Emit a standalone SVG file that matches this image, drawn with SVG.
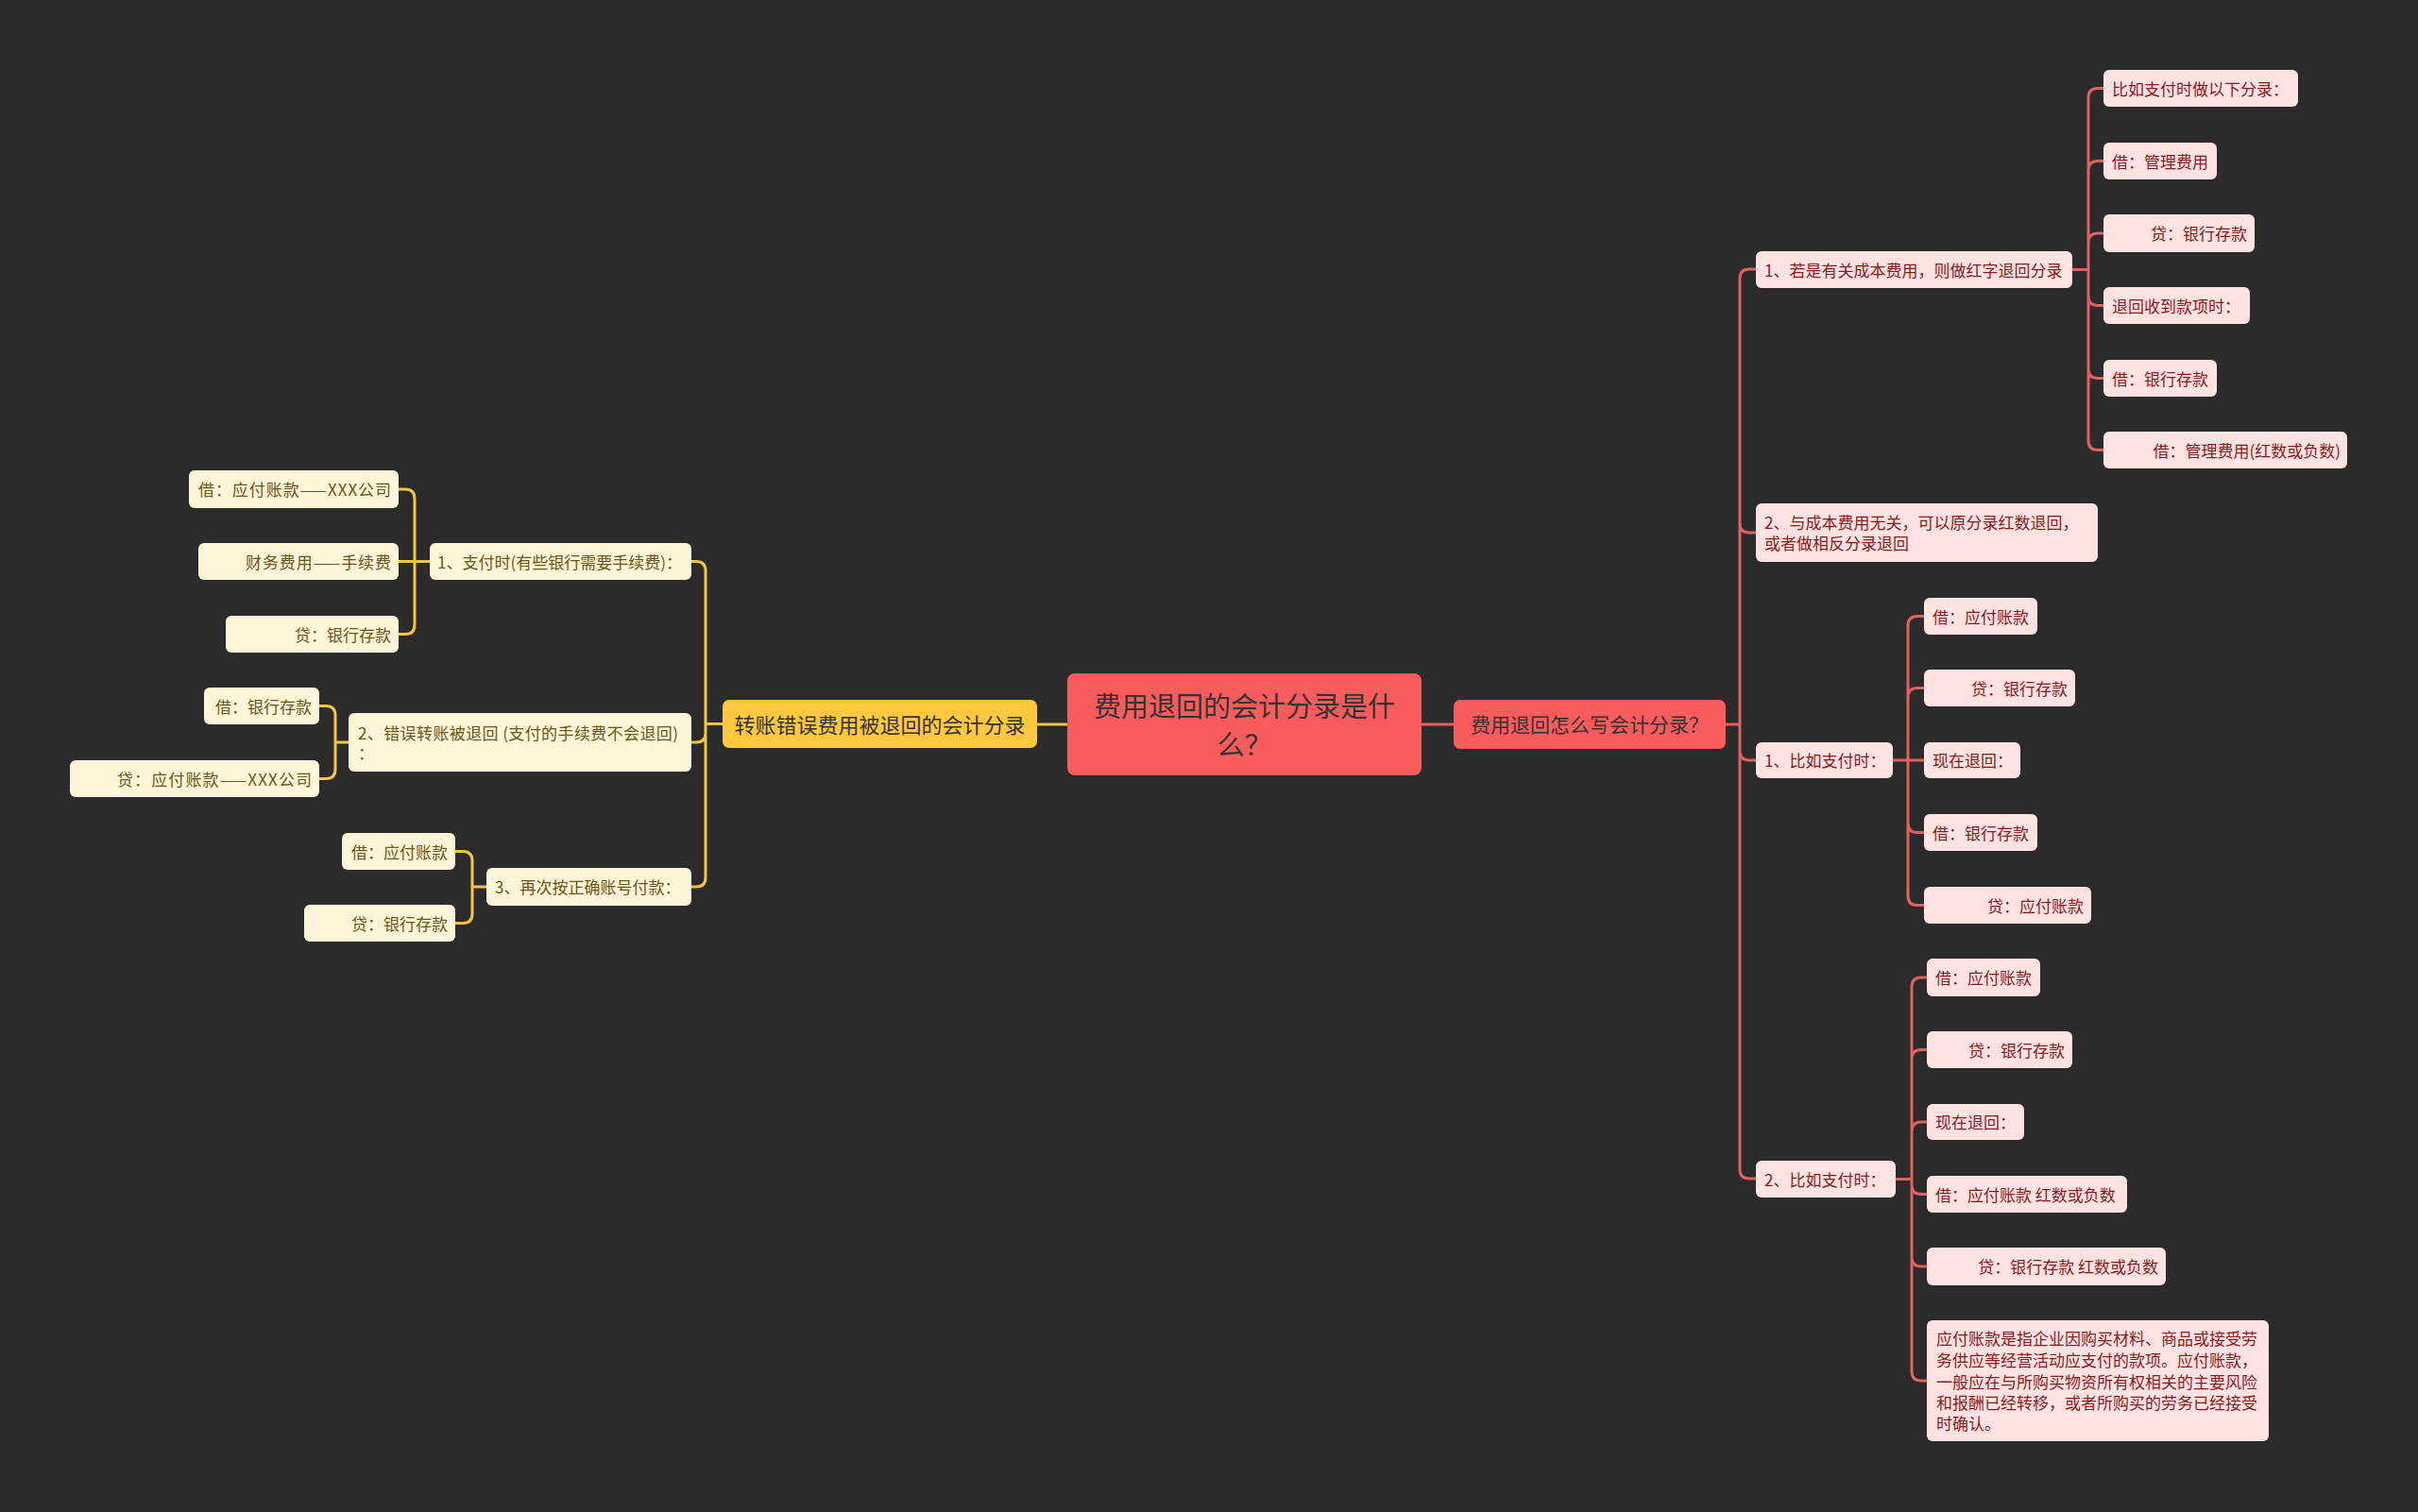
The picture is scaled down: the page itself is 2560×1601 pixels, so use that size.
<svg xmlns="http://www.w3.org/2000/svg" width="2560" height="1601" viewBox="0 0 2560 1601">
<style>
text{font-family:"Noto Sans CJK SC","Noto Sans",sans-serif;dominant-baseline:central}
.c{fill:#F95C5C}
.rc{fill:#FFE3E3}
.lc{fill:#FFF5D8}
.lm{fill:#FFC83E}
.tr{fill:#8B1A1A;font-size:17px}
.tl{fill:#6E5416;font-size:17px}
.tm{fill:#333333}
.lr{fill:none;stroke:#E0625F;stroke-width:3}
.ly{fill:none;stroke:#F4C443;stroke-width:3}
</style>
<rect width="2560" height="1601" fill="#2B2B2B"/>
<g id="connectors">
<path class="lr" d="M1505,767H1539"/>
<path class="ly" d="M1130,767H1098"/>
<path class="lr" d="M1827,767H1842M1842,767V295Q1842,285 1852,285H1859M1842,767V554Q1842,564 1852,564H1859M1842,767V795Q1842,805 1852,805H1859M1842,767V1238Q1842,1248 1852,1248H1859"/>
<path class="lr" d="M2194,285.5H2211M2211,285.5V103.5Q2211,93.5 2221,93.5H2227M2211,285.5V180.5Q2211,170.5 2221,170.5H2227M2211,285.5V257Q2211,247 2221,247H2227M2211,285.5V313.5Q2211,323.5 2221,323.5H2227M2211,285.5V390.5Q2211,400.5 2221,400.5H2227M2211,285.5V466.5Q2211,476.5 2221,476.5H2227"/>
<path class="lr" d="M2004,805H2037M2020,805V662.5Q2020,652.5 2030,652.5H2037M2020,805V738.5Q2020,728.5 2030,728.5H2037M2020,805V871.5Q2020,881.5 2030,881.5H2037M2020,805V948.5Q2020,958.5 2030,958.5H2037"/>
<path class="lr" d="M2007,1248.5H2024M2024,1248.5V1045Q2024,1035 2034,1035H2040M2024,1248.5V1121.5Q2024,1111.5 2034,1111.5H2040M2024,1248.5V1198Q2024,1188 2034,1188H2040M2024,1248.5V1254.5Q2024,1264.5 2034,1264.5H2040M2024,1248.5V1331Q2024,1341 2034,1341H2040M2024,1248.5V1452Q2024,1462 2034,1462H2040"/>
<path class="ly" d="M765,766.5H747M747,766.5V604.5Q747,594.5 737,594.5H732M747,766.5V776Q747,786 737,786H732M747,766.5V929Q747,939 737,939H732"/>
<path class="ly" d="M455,594.5H422M439,594.5V528Q439,518 429,518H422M439,594.5V661.5Q439,671.5 429,671.5H422"/>
<path class="ly" d="M369,786H355M355,786V757.5Q355,747.5 345,747.5H338M355,786V814.5Q355,824.5 345,824.5H338"/>
<path class="ly" d="M515,939H500M500,939V911.5Q500,901.5 490,901.5H482M500,939V967.5Q500,977.5 490,977.5H482"/>
</g>
<g id="center"><rect class="c" x="1130" y="713" width="375" height="108" rx="8"/><text class="tm" x="1317.5" y="746" font-size="29" text-anchor="middle">费用退回的会计分录是什</text><text class="tm" x="1317.5" y="787" font-size="29" text-anchor="middle">么？</text></g>
<g id="right-main"><rect class="c" x="1539" y="741" width="288" height="52" rx="7"/><text class="tm" x="1683" y="766" font-size="21" text-anchor="middle">费用退回怎么写会计分录？</text></g>
<g id="left-main"><rect class="lm" x="765" y="741" width="333" height="51" rx="7"/><text class="tm" x="931.5" y="765.5" font-size="22" text-anchor="middle">转账错误费用被退回的会计分录</text></g>
<g id="r1"><rect class="rc" x="1859" y="266" width="335" height="39" rx="6"/><text class="tr" x="1868" y="285">1、若是有关成本费用，则做红字退回分录</text></g>
<g id="r1a"><rect class="rc" x="2227" y="74" width="206" height="39" rx="6"/><text class="tr" x="2236" y="93">比如支付时做以下分录：</text></g>
<g id="r1b"><rect class="rc" x="2227" y="151" width="120" height="39" rx="6"/><text class="tr" x="2236" y="170">借：管理费用</text></g>
<g id="r1c"><rect class="rc" x="2227" y="227" width="160" height="40" rx="6"/><text class="tr" x="2379" y="246.5" text-anchor="end">贷：银行存款</text></g>
<g id="r1d"><rect class="rc" x="2227" y="304" width="155" height="39" rx="6"/><text class="tr" x="2236" y="323">退回收到款项时：</text></g>
<g id="r1e"><rect class="rc" x="2227" y="381" width="120" height="39" rx="6"/><text class="tr" x="2236" y="400">借：银行存款</text></g>
<g id="r1f"><rect class="rc" x="2227" y="457" width="258" height="39" rx="6"/><text class="tr" x="2478" y="476" text-anchor="end">借：管理费用(红数或负数)</text></g>
<g id="r2"><rect class="rc" x="1859" y="533" width="362" height="62" rx="6"/><text class="tr" x="1868" y="552.5">2、与成本费用无关，可以原分录红数退回，</text><text class="tr" x="1868" y="574.5">或者做相反分录退回</text></g>
<g id="r3"><rect class="rc" x="1859" y="786" width="145" height="38" rx="6"/><text class="tr" x="1868" y="804.5">1、比如支付时：</text></g>
<g id="r3a"><rect class="rc" x="2037" y="633" width="120" height="39" rx="6"/><text class="tr" x="2046" y="652">借：应付账款</text></g>
<g id="r3b"><rect class="rc" x="2037" y="709" width="160" height="39" rx="6"/><text class="tr" x="2189" y="728" text-anchor="end">贷：银行存款</text></g>
<g id="r3c"><rect class="rc" x="2037" y="786" width="102" height="38" rx="6"/><text class="tr" x="2046" y="804.5">现在退回：</text></g>
<g id="r3d"><rect class="rc" x="2037" y="862" width="120" height="39" rx="6"/><text class="tr" x="2046" y="881">借：银行存款</text></g>
<g id="r3e"><rect class="rc" x="2037" y="939" width="177" height="39" rx="6"/><text class="tr" x="2206" y="958" text-anchor="end">贷：应付账款</text></g>
<g id="r4"><rect class="rc" x="1859" y="1229" width="148" height="39" rx="6"/><text class="tr" x="1868" y="1248">2、比如支付时：</text></g>
<g id="r4a"><rect class="rc" x="2040" y="1015" width="120" height="40" rx="6"/><text class="tr" x="2049" y="1034.5">借：应付账款</text></g>
<g id="r4b"><rect class="rc" x="2040" y="1092" width="154" height="39" rx="6"/><text class="tr" x="2186" y="1111" text-anchor="end">贷：银行存款</text></g>
<g id="r4c"><rect class="rc" x="2040" y="1169" width="103" height="38" rx="6"/><text class="tr" x="2049" y="1187.5">现在退回：</text></g>
<g id="r4d"><rect class="rc" x="2040" y="1245" width="212" height="39" rx="6"/><text class="tr" x="2049" y="1264">借：应付账款 红数或负数</text></g>
<g id="r4e"><rect class="rc" x="2040" y="1321" width="253" height="40" rx="6"/><text class="tr" x="2285" y="1340.5" text-anchor="end">贷：银行存款 红数或负数</text></g>
<g id="r4f"><rect class="rc" x="2040" y="1398" width="362" height="128" rx="6"/>
<text class="tr" x="2050" y="1416.5">应付账款是指企业因购买材料、商品或接受劳</text>
<text class="tr" x="2050" y="1439.5">务供应等经营活动应支付的款项。应付账款，</text>
<text class="tr" x="2050" y="1462.5">一般应在与所购买物资所有权相关的主要风险</text>
<text class="tr" x="2050" y="1484.5">和报酬已经转移，或者所购买的劳务已经接受</text>
<text class="tr" x="2050" y="1506.5">时确认。</text></g>
<g id="l1"><rect class="lc" x="455" y="575" width="277" height="39" rx="6"/><text class="tl" x="463" y="594">1、支付时(有些银行需要手续费)：</text></g>
<g id="l1a"><rect class="lc" x="200" y="498" width="222" height="40" rx="6"/><text class="tl" x="210" y="517.5" textLength="204" lengthAdjust="spacing">借：应付账款——XXX公司</text></g>
<g id="l1b"><rect class="lc" x="210" y="575" width="212" height="39" rx="6"/><text class="tl" x="260" y="594" textLength="154" lengthAdjust="spacing">财务费用——手续费</text></g>
<g id="l1c"><rect class="lc" x="239" y="652" width="183" height="39" rx="6"/><text class="tl" x="414" y="671" text-anchor="end">贷：银行存款</text></g>
<g id="l2"><rect class="lc" x="369" y="755" width="363" height="62" rx="6"/><text class="tl" x="379" y="775.5" textLength="339" lengthAdjust="spacing">2、错误转账被退回 (支付的手续费不会退回)</text><text class="tl" x="379" y="796.5">：</text></g>
<g id="l2a"><rect class="lc" x="216" y="728" width="122" height="39" rx="6"/><text class="tl" x="330" y="747" text-anchor="end">借：银行存款</text></g>
<g id="l2b"><rect class="lc" x="74" y="805" width="264" height="39" rx="6"/><text class="tl" x="124" y="824" textLength="206" lengthAdjust="spacing">贷：应付账款——XXX公司</text></g>
<g id="l3"><rect class="lc" x="515" y="919" width="217" height="40" rx="6"/><text class="tl" x="524" y="938.5">3、再次按正确账号付款：</text></g>
<g id="l3a"><rect class="lc" x="362" y="882" width="120" height="39" rx="6"/><text class="tl" x="474" y="901" text-anchor="end">借：应付账款</text></g>
<g id="l3b"><rect class="lc" x="322" y="958" width="160" height="39" rx="6"/><text class="tl" x="474" y="977" text-anchor="end">贷：银行存款</text></g>
</svg>
